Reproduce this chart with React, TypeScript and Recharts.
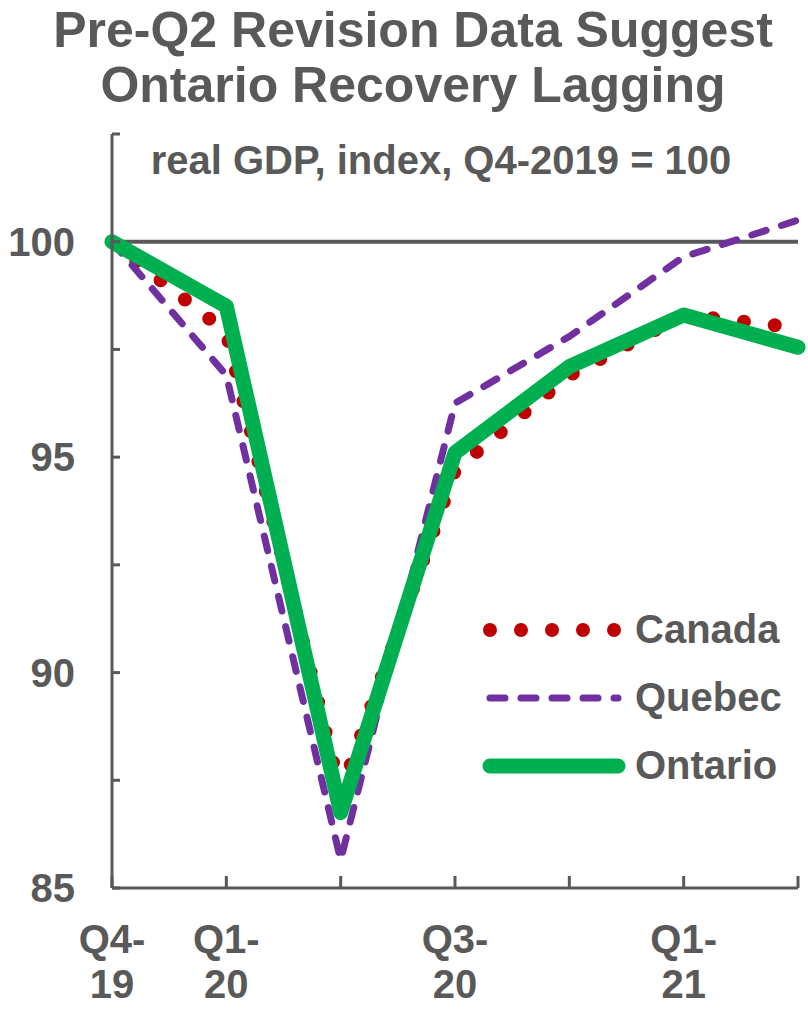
import React from 'react';
import { LineChart, Line, XAxis, YAxis, CartesianGrid, Legend } from 'recharts';

const quarters = ['Q4-19', 'Q1-20', 'Q2-20', 'Q3-20', 'Q4-20', 'Q1-21', 'Q2-21'];
const canada = [100, 97.9, 87.2, 94.7, 96.9, 98.3, 98.0];
const quebec = [100, 96.9, 85.65, 96.25, 97.8, 99.65, 100.5];
const ontario = [100, 98.5, 86.75, 95.1, 97.1, 98.3, 97.55];
const labeledQuarters = ['Q4-19', 'Q1-20', 'Q3-20', 'Q1-21'];
const yTicks = [85, 87.5, 90, 92.5, 95, 97.5, 100, 102.5];
const yLabels = [85, 90, 95, 100];
const referenceValues = [100];
const titleLines = ['Pre-Q2 Revision Data Suggest', 'Ontario Recovery Lagging'];
const subtitle = 'real GDP, index, Q4-2019 = 100';

const GRAY = '#595959';
const FONT = '"Liberation Sans", Arial, Helvetica, sans-serif';

const series = [
  { key: 'canada', name: 'Canada', color: '#C00000', width: 14, dash: '0 31' },
  { key: 'quebec', name: 'Quebec', color: '#7030A0', width: 7, dash: '15 16' },
  { key: 'ontario', name: 'Ontario', color: '#00B050', width: 15, dash: undefined as string | undefined },
];

const data = quarters.map((q, i) => ({ q, canada: canada[i], quebec: quebec[i], ontario: ontario[i] }));

const XTick = (props: any) => {
  const { x, y, payload } = props;
  const v = String(payload.value);
  if (!labeledQuarters.includes(v)) return <g />;
  const [a, b] = v.split('-');
  return (
    <text x={x} y={y} textAnchor="middle" fill={GRAY} fontSize={40} fontWeight="bold" fontFamily={FONT}>
      <tspan x={x} dy={65}>{a + '-'}</tspan>
      <tspan x={x} dy={45}>{b}</tspan>
    </text>
  );
};

const LegendContent = () => (
  <svg width={330} height={200} style={{ overflow: 'visible' }}>
    {series.map((s, i) => {
      const cy = 25 + i * 68;
      return (
        <g key={s.key}>
          <line
            x1={7}
            x2={s.key === 'canada' ? 140 : 135}
            y1={cy}
            y2={cy}
            stroke={s.color}
            strokeWidth={s.width}
            strokeDasharray={s.dash}
            strokeLinecap="round"
          />
          <text x={152} y={cy + 13} fill={GRAY} fontSize={40} fontWeight="bold" fontFamily={FONT}>
            {s.name}
          </text>
        </g>
      );
    })}
  </svg>
);

export default function App() {
  return (
    <div style={{ position: 'absolute', left: 0, top: 0, width: 808, height: 1009, background: '#fff' }}>
      <LineChart width={808} height={1009} data={data} margin={{ top: 134, right: 10, bottom: 0, left: 0 }}>
        <CartesianGrid vertical={false} horizontalValues={referenceValues} stroke={GRAY} strokeWidth={4} />
        <XAxis
          dataKey="q"
          interval={0}
          height={121}
          padding={{ left: 0, right: 0 }}
          axisLine={{ stroke: GRAY, strokeWidth: 3 }}
          tickLine={{ stroke: GRAY, strokeWidth: 3 }}
          tickSize={-12}
          tickMargin={12}
          tick={<XTick />}
        />
        <YAxis
          type="number"
          domain={[85, 102.5]}
          ticks={yTicks}
          width={112}
          interval={0}
          axisLine={{ stroke: GRAY, strokeWidth: 3 }}
          tickLine={{ stroke: GRAY, strokeWidth: 3 }}
          tickSize={-8}
          tickMargin={45}
          tickFormatter={(v: number) => (yLabels.includes(v) ? String(v) : '')}
          tick={{ fill: GRAY, fontSize: 40, fontWeight: 'bold', fontFamily: FONT }}
        />
        <Legend
          layout="vertical"
          align="center"
          verticalAlign="middle"
          content={<LegendContent />}
          wrapperStyle={{ position: 'absolute', left: 483, top: 605, width: 330, height: 200 }}
        />
        {series.map((s) => (
          <Line
            key={s.key}
            type="linear"
            dataKey={s.key}
            name={s.name}
            stroke={s.color}
            strokeWidth={s.width}
            strokeDasharray={s.dash}
            strokeLinecap="round"
            strokeLinejoin="round"
            dot={false}
            activeDot={false}
            isAnimationActive={false}
          />
        ))}
      </LineChart>
      <svg width={808} height={1009} style={{ position: 'absolute', left: 0, top: 0, pointerEvents: 'none' }}>
        {titleLines.map((t, i) => (
          <text key={t} x={413} y={47 + i * 55} textAnchor="middle" fill={GRAY} fontSize={50} fontWeight="bold" fontFamily={FONT}>
            {t}
          </text>
        ))}
        <text x={441} y={174} textAnchor="middle" fill={GRAY} fontSize={40} fontWeight="bold" fontFamily={FONT}>
          {subtitle}
        </text>
      </svg>
    </div>
  );
}
